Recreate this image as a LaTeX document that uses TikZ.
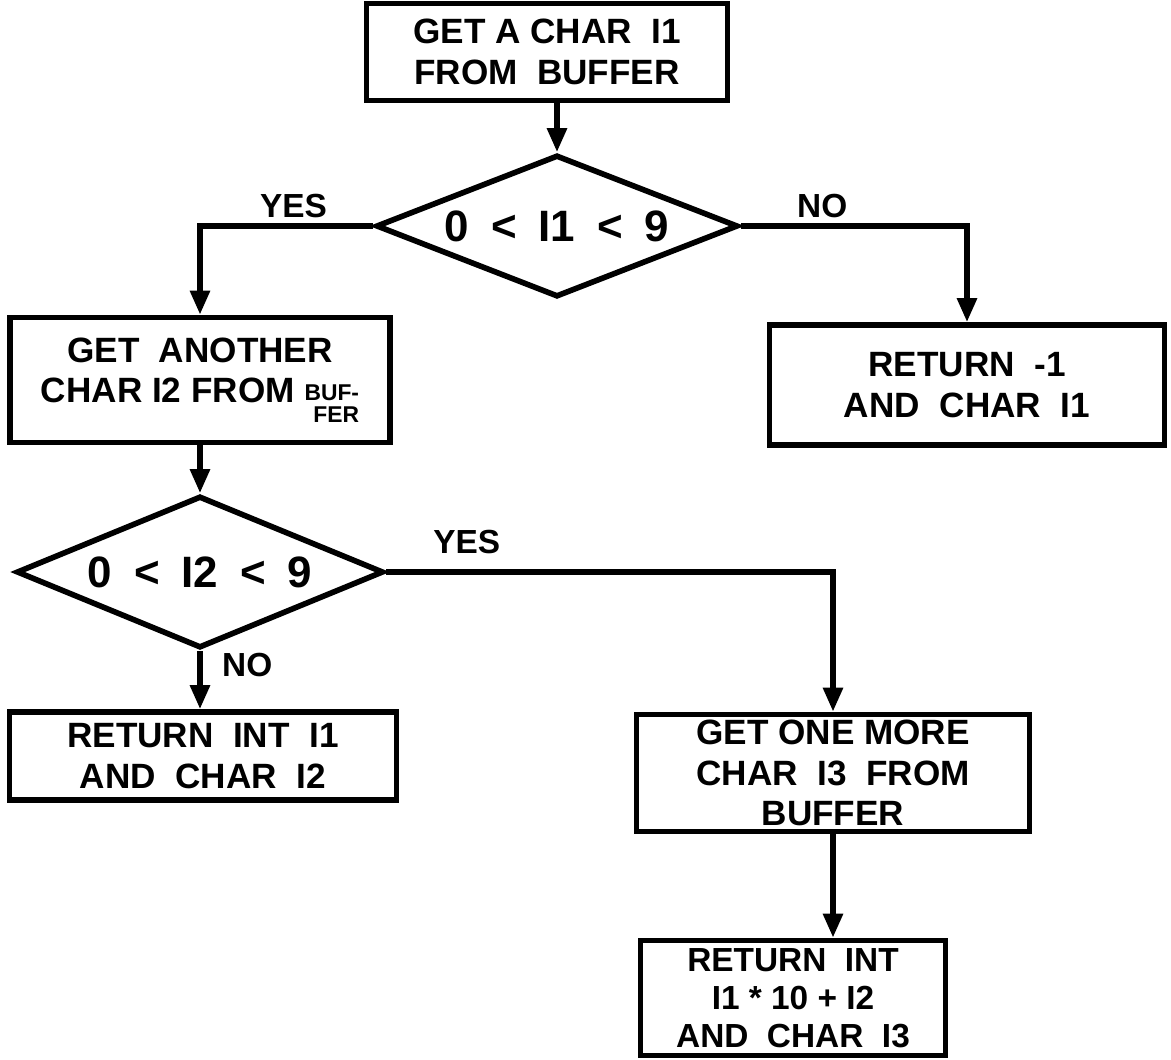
\documentclass[tikz,border=0pt]{standalone}
\usepackage{fontspec}
\setmainfont{Liberation Sans}
\usepackage{tikz}
\usetikzlibrary{arrows.meta,positioning,shapes.geometric}

\begin{document}
\begin{tikzpicture}[
    box/.style={
        draw=black,
        line width=3.2pt,
        align=center,
        inner sep=2pt,
        font=\fontsize{20}{23}\selectfont\bfseries
    },
    decision/.style={
        draw=black,
        diamond,
        aspect=2.55,
        line width=3.2pt,
        inner sep=0pt,
        align=center,
        font=\fontsize{25}{27}\selectfont\bfseries
    },
    lbl/.style={font=\fontsize{19}{22}\selectfont\bfseries, inner sep=3pt},
    arrow/.style={-{Triangle[length=0.48cm,width=0.38cm]}, line width=3.2pt, draw=black}
]
\useasboundingbox (0,0) rectangle (23.42,-21.18);

\node[box, minimum width=7.22cm, minimum height=1.94cm] (getone) at (10.94,-1.04) {GET A CHAR\ \ I1\\FROM\ \ BUFFER};
\node[decision, minimum width=7.24cm, minimum height=2.84cm] (testone) at (11.14,-4.52) {0\enspace<\enspace I1\enspace<\enspace9};

\node[box, minimum width=7.6cm, minimum height=2.5cm] (gettwo) at (4.0,-7.6)
    {GET\ \ ANOTHER\\CHAR I2 FROM \raisebox{-0.55em}{\shortstack[r]{\fontsize{13}{13}\selectfont\bfseries BUF-\\\fontsize{13}{13}\selectfont\bfseries FER}}};
\node[box, minimum width=7.9cm, minimum height=2.4cm] (retneg) at (19.34,-7.7) {RETURN\ \ -1\\AND\ \ CHAR\ \ I1};

\node[decision, minimum width=7.34cm, minimum height=3.04cm] (testtwo) at (4.0,-11.44) {0\enspace<\enspace I2\enspace<\enspace9};

\node[box, minimum width=7.74cm, minimum height=1.76cm] (retone) at (4.06,-15.12) {RETURN\ \ INT\ \ I1\\AND\ \ CHAR\ \ I2};
\node[box, minimum width=7.86cm, minimum height=2.34cm] (getthree) at (16.66,-15.46) {GET ONE MORE\\CHAR\ \ I3\ \ FROM\\BUFFER};
\node[box, minimum width=6.1cm, minimum height=2.3cm, font=\fontsize{19}{21.5}\selectfont\bfseries] (rettwo) at (15.86,-19.96) {RETURN\ \ INT\\I1 * 10 + I2\\AND\ \ CHAR\ \ I3};

\draw[arrow] (getone.south -| testone.north) -- (testone.north);
\draw[arrow] (testone.west) -| node[lbl, above, pos=0.23] (yesone) {YES} (gettwo.north);
\draw[arrow] (testone.east) -| node[lbl, above, pos=0.18] (noone) {NO} (retneg.north);
\draw[arrow] (gettwo.south) -- (testtwo.north);
\draw[arrow] (testtwo.east) -| node[lbl, above=6pt, pos=0.09] (yestwo) {YES} (getthree.north);
\draw[arrow] (testtwo.south) -- node[lbl, right=8pt, pos=0.25] (notwo) {NO} (testtwo.south |- retone.north);
\draw[arrow] (getthree.south) -- (getthree.south |- rettwo.north);

\end{tikzpicture}
\end{document}
